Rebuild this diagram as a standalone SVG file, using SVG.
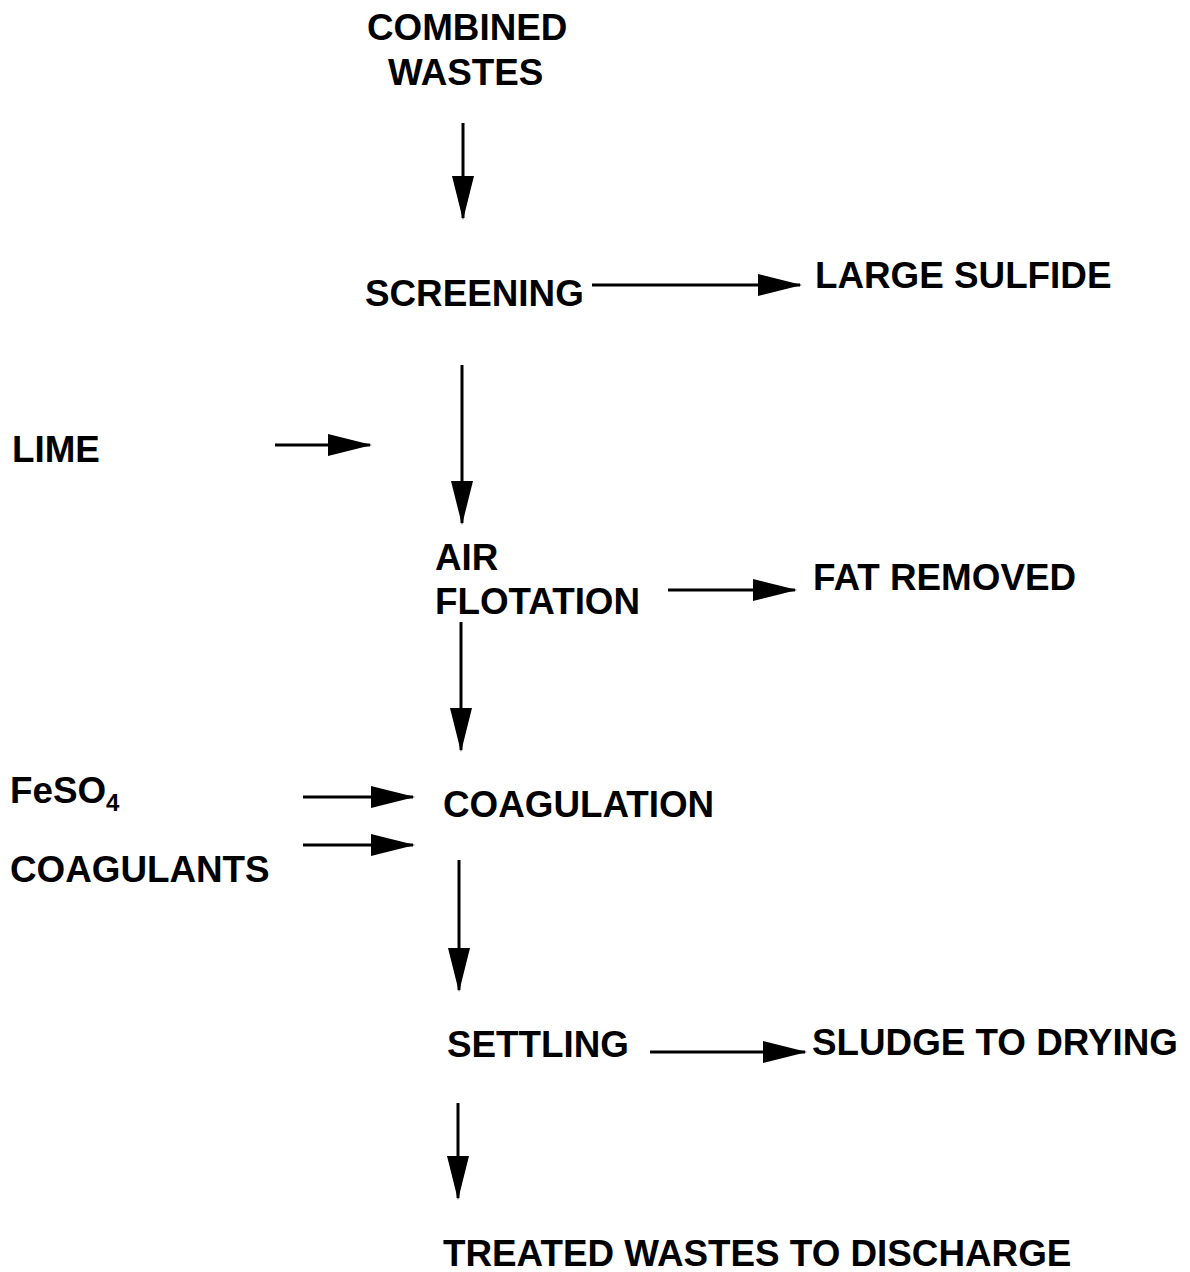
<svg xmlns="http://www.w3.org/2000/svg" width="1190" height="1272" viewBox="0 0 1190 1272">
<style>
text{font-family:"Liberation Sans",Arial,sans-serif;font-weight:bold;font-size:36.8px;fill:#000}
.c{stroke:#000;stroke-width:3;fill:none;marker-end:url(#ah)}
</style>
<defs>
<marker id="ah" markerUnits="userSpaceOnUse" markerWidth="44" markerHeight="22" refX="42" refY="11" orient="auto" viewBox="0 0 44 22">
<path d="M0,0 L44,11 L0,22 z" fill="#000"/>
</marker>
</defs>
<rect width="1190" height="1272" fill="#fff"/>
<g id="combined"><text x="367" y="40">COMBINED</text><text x="388" y="85">WASTES</text></g>
<g id="screening"><text x="365" y="306">SCREENING</text></g>
<g id="sulfide"><text x="815" y="288">LARGE SULFIDE</text></g>
<g id="lime"><text x="12" y="462">LIME</text></g>
<g id="flotation"><text x="435" y="570">AIR</text><text x="435" y="614">FLOTATION</text></g>
<g id="fat"><text x="813" y="590">FAT REMOVED</text></g>
<g id="feso4"><text x="10" y="803">FeSO<tspan font-size="24" dy="8">4</tspan></text></g>
<g id="coagulants"><text x="10" y="882">COAGULANTS</text></g>
<g id="coagulation"><text x="443" y="817">COAGULATION</text></g>
<g id="settling"><text x="447" y="1057">SETTLING</text></g>
<g id="sludge"><text x="812" y="1055">SLUDGE TO DRYING</text></g>
<g id="treated"><text x="443" y="1266">TREATED WASTES TO DISCHARGE</text></g>
<g id="connectors">
<line class="c" x1="463" y1="123" x2="463" y2="218"/>
<line class="c" x1="592" y1="285" x2="800" y2="285"/>
<line class="c" x1="462" y1="365" x2="462" y2="523"/>
<line class="c" x1="275" y1="445" x2="370" y2="445"/>
<line class="c" x1="668" y1="590" x2="795" y2="590"/>
<line class="c" x1="461" y1="622" x2="461" y2="750"/>
<line class="c" x1="303" y1="797" x2="413" y2="797"/>
<line class="c" x1="303" y1="845" x2="413" y2="845"/>
<line class="c" x1="459" y1="860" x2="459" y2="990"/>
<line class="c" x1="650" y1="1052" x2="805" y2="1052"/>
<line class="c" x1="458" y1="1103" x2="458" y2="1198"/>
</g>
</svg>
